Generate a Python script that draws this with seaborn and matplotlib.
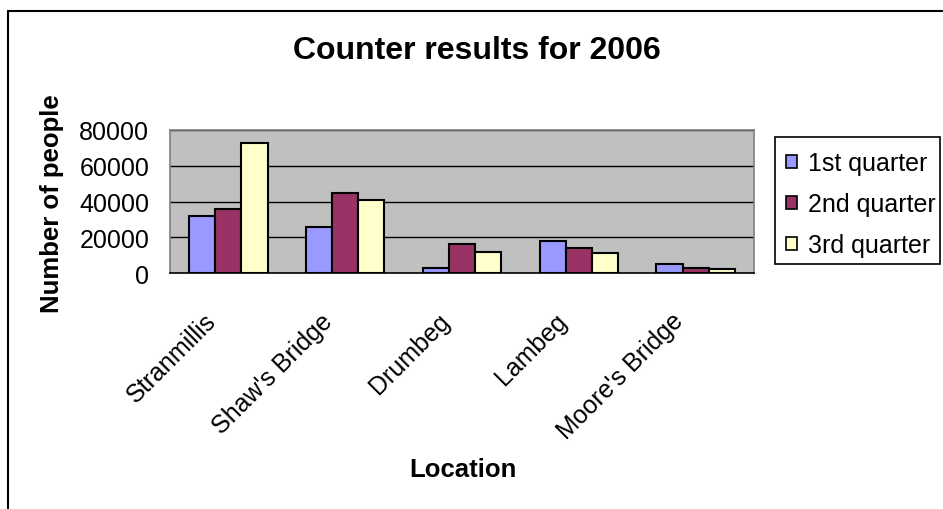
import matplotlib
matplotlib.use("Agg")
import matplotlib.pyplot as plt
import matplotlib.transforms as mtransforms
import seaborn as sns
import pandas as pd
from matplotlib.lines import Line2D
from matplotlib.patches import Patch, Rectangle

locations = ["Stranmillis", "Shaw's Bridge", "Drumbeg", "Lambeg", "Moore's Bridge"]
q1 = [32000, 26000, 3000, 18000, 5000]
q2 = [36000, 45000, 16000, 14000, 3000]
q3 = [73000, 41000, 12000, 11000, 2000]
series = ["1st quarter", "2nd quarter", "3rd quarter"]
colors = ["#9999FF", "#993366", "#FFFFCC"]
yticks = [0, 20000, 40000, 60000, 80000]

rows = []
for s, vals in zip(series, [q1, q2, q3]):
    for loc, v in zip(locations, vals):
        rows.append({"Location": loc, "Series": s, "Value": v})
df = pd.DataFrame(rows)

sns.set_style("white")
plt.rcParams["font.family"] = ["Liberation Sans", "DejaVu Sans"]
plt.rcParams["text.color"] = "black"
plt.rcParams["axes.labelcolor"] = "black"
plt.rcParams["xtick.color"] = "black"
plt.rcParams["ytick.color"] = "black"

W, H = 943, 510
fig = plt.figure(figsize=(W/100, H/100), dpi=100)
ax = fig.add_axes([170/W, 1-274/H, (754-170)/W, (274-131)/H])

sns.barplot(data=df, x="Location", y="Value", hue="Series", palette=colors,
            width=0.67, edgecolor="black", linewidth=1.5, ax=ax, legend=False,
            saturation=1)

ax.set_facecolor("#C0C0C0")
ax.set_ylim(0, 80000)
ax.set_xlim(-0.5, len(locations) - 0.5)
ax.set_yticks(yticks)
ax.set_yticklabels([str(t) for t in yticks], fontsize=18)
for y in yticks[1:]:
    ax.axhline(y, color="black", linewidth=1, zorder=0.5)
ax.set_axisbelow(True)

# category boundary ticks
ax.set_xticks([i - 0.5 for i in range(len(locations) + 1)])
ax.set_xticklabels([""] * (len(locations) + 1))
ax.tick_params(axis="x", length=8, width=1, color="#404040", direction="out")
ax.tick_params(axis="y", length=7, width=1, color="#404040", direction="out", pad=8)

# rotated category labels
offset = mtransforms.ScaledTranslation(-16/100, -44/100, fig.dpi_scale_trans)
trans = ax.get_xaxis_transform() + offset
for i, loc in enumerate(locations):
    ax.text(i, 0, loc, transform=trans, rotation=45, ha="right", va="center",
            rotation_mode="anchor", fontsize=18, clip_on=False)

for side in ["left", "right", "top"]:
    ax.spines[side].set_color("#808080")
    ax.spines[side].set_linewidth(1.2)
ax.spines["bottom"].set_color("black")
ax.spines["bottom"].set_linewidth(1.2)

ax.set_xlabel("")
ax.set_ylabel("")
fig.text(52/W, 1-204/H, "Number of people", rotation=90, ha="center", va="center",
         fontsize=18.5, fontweight="bold")
fig.text(463/W, 1-470/H, "Location", ha="center", va="center",
         fontsize=18.5, fontweight="bold")
fig.text(477/W, 1-51/H, "Counter results for 2006", ha="center", va="center",
         fontsize=23, fontweight="bold")

handles = [Patch(facecolor=c, edgecolor="black", linewidth=1.2) for c in colors]
leg = fig.legend(handles, series, loc="upper left",
                 bbox_to_anchor=(775/W, 1-141/H), fontsize=18,
                 frameon=False,
                 handlelength=0.42, handleheight=0.42, handletextpad=0.45,
                 labelspacing=0.68, borderpad=0.45, borderaxespad=0)
fig.add_artist(Rectangle((775/W, 1-265/H), (940-775)/W, (265-138)/H,
                         transform=fig.transFigure, facecolor="none",
                         edgecolor="black", linewidth=1.2))

# outer chart border (top and left)
fig.add_artist(Line2D([8/W, 8/W], [0, 1-12/H], color="black", linewidth=1.5,
                      transform=fig.transFigure))
fig.add_artist(Line2D([8/W, 1], [1-12/H, 1-12/H], color="black", linewidth=1.5,
                      transform=fig.transFigure))

fig.savefig("out.png", dpi=100, facecolor="white")
